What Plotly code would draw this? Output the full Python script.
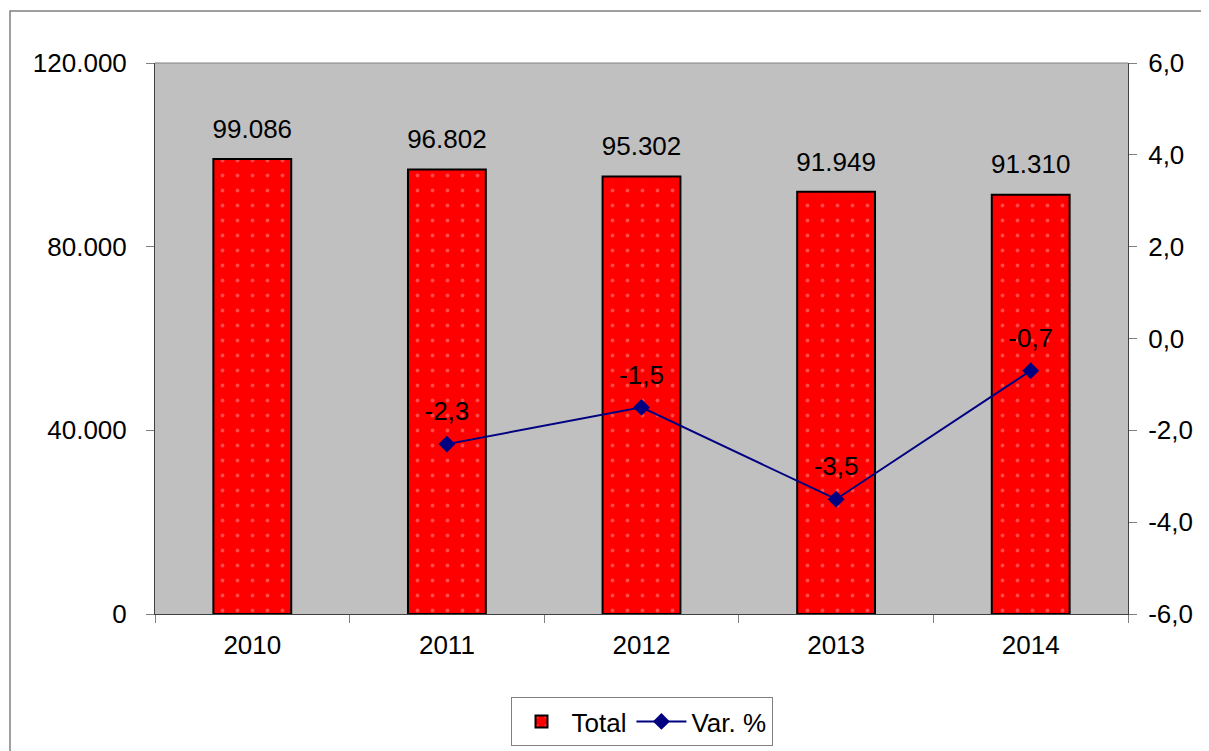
import plotly.graph_objects as go

years = ["2010", "2011", "2012", "2013", "2014"]
total = [99086, 96802, 95302, 91949, 91310]
var_years = ["2011", "2012", "2013", "2014"]
var_pct = [-2.3, -1.5, -3.5, -0.7]
left_ticks = [0, 40000, 80000, 120000]
right_ticks = [-6, -4, -2, 0, 2, 4, 6]
right_ticktext = ["-6,0", "-4,0", "-2,0", "0,0", "2,0", "4,0", "6,0"]

FONT = "Liberation Sans, Arial, sans-serif"
FS = 26

# page body has an 8px margin; reference plot area is at x 155..1128, y 63..614
OFF = 8
L, R, T, B = 155 - OFF, 1128 - OFF, 63 - OFF, 614 - OFF
W, H = 1209, 751
PW, PH = R - L, B - T

fig = go.Figure()
fig.add_trace(go.Bar(
    x=years, y=total, name="Total", width=0.4,
    marker=dict(color="#ff0000", line=dict(color="#000000", width=2),
                pattern=dict(shape=".", fgcolor="#ff9090", bgcolor="#ff0000",
                             size=15, solidity=0.05)),
    hoverinfo="skip", yaxis="y",
))
# bar value labels (transparent markers give the gap above the bars)
fig.add_trace(go.Scatter(
    x=years, y=total, mode="markers+text", showlegend=False,
    marker=dict(size=22, opacity=0),
    text=[f"{v:,}".replace(",", ".") for v in total],
    textposition="top center",
    textfont=dict(size=FS, color="#000000", family=FONT),
    cliponaxis=False, yaxis="y", hoverinfo="skip",
))
fig.add_trace(go.Scatter(
    x=var_years, y=var_pct, name="Var. %", mode="lines+markers",
    line=dict(color="#000080", width=2),
    marker=dict(symbol="diamond", size=13, color="#000080"),
    yaxis="y2", cliponaxis=False,
))
fig.add_trace(go.Scatter(
    x=var_years, y=var_pct, mode="markers+text", showlegend=False,
    marker=dict(size=26, opacity=0),
    text=[f"{v:.1f}".replace(".", ",") for v in var_pct],
    textposition="top center",
    textfont=dict(size=FS, color="#000000", family=FONT),
    yaxis="y2", cliponaxis=False, hoverinfo="skip",
))

fig.update_layout(
    width=W, height=H,
    separators=",.",
    paper_bgcolor="white", plot_bgcolor="#c0c0c0",
    font=dict(family=FONT, size=FS, color="#000000"),
    margin=dict(l=L, r=W - R, t=T, b=H - B, pad=0),
    xaxis=dict(type="category", ticks="outside", tickson="boundaries",
               ticklen=8, tickcolor="#808080", showline=True,
               linecolor="#404040", linewidth=1,
               showgrid=False, tickfont=dict(size=FS), ticklabelstandoff=8),
    yaxis=dict(range=[0, 120000], tickvals=left_ticks,
               tickformat=",.0f", ticks="outside", ticklen=8,
               tickcolor="#808080", showline=True, linecolor="#404040",
               showgrid=False, zeroline=False, tickfont=dict(size=FS),
               ticklabelstandoff=14),
    yaxis2=dict(range=[-6, 6], tickvals=right_ticks, ticktext=right_ticktext,
                overlaying="y", side="right",
                ticks="outside", ticklen=8, tickcolor="#808080",
                showline=True, linecolor="#404040", showgrid=False,
                zeroline=False, tickfont=dict(size=FS), ticklabelstandoff=6),
    legend=dict(orientation="h", x=0.5, xanchor="center",
                y=(B - (697 - OFF)) / PH, yanchor="top",
                bordercolor="#808080", borderwidth=1, itemwidth=50,
                bgcolor="white", font=dict(size=FS)),
    showlegend=True,
    hovermode=False,
    shapes=[
        dict(type="line", xref="paper", yref="paper", x0=0, x1=1, y0=1, y1=1,
             line=dict(color="#808080", width=1)),
        dict(type="rect", xref="paper", yref="paper",
             x0=(10 - OFF - L) / PW, x1=(1215 - L) / PW,
             y0=(B - 760) / PH, y1=(B - (11 - OFF)) / PH,
             line=dict(color="#808080", width=1.5), fillcolor="rgba(0,0,0,0)"),
    ],
)

fig.write_html("out.html")
